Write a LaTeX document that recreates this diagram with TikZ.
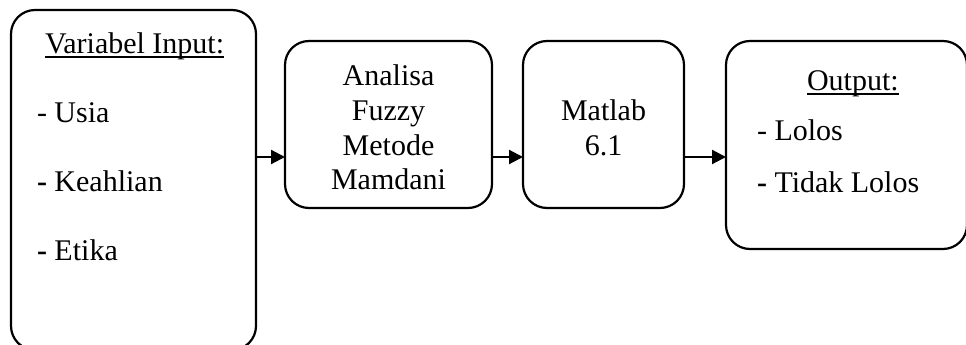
\documentclass[tikz,border=0pt]{standalone}
\usepackage{fontspec}
\setmainfont{Liberation Serif}
\usetikzlibrary{arrows.meta}
\begin{document}
\begin{tikzpicture}[x=1pt,y=-1pt,
  box/.style={draw, line width=2.2pt, rounded corners=24pt, inner sep=0pt, outer sep=0pt},
  lbl/.style={inner sep=0pt, outer sep=0pt, font=\fontsize{30}{34.5}\selectfont},
  arr/.style={line width=2.2pt, -{Triangle[length=14pt,width=14pt]}},
  uline/.style={line width=1.6pt}]
\path[use as bounding box, clip] (0,0) rectangle (966,345);

% boxes
\node[box, minimum width=245pt, minimum height=340pt] (inp) at (133.5,180) {};
\node[box, minimum width=207pt, minimum height=167pt] (fz)  at (388.5,124.5) {};
\node[box, minimum width=161pt, minimum height=167pt] (ml)  at (603.5,124.5) {};
\node[box, minimum width=241pt, minimum height=208pt] (out) at (846.5,145) {};

% input variables
\node[lbl, anchor=base west] (vi) at (45,53) {Variabel Input:};
\draw[uline] ([yshift=-4pt]vi.base west) -- ([yshift=-4pt]vi.base east);
\node[lbl, anchor=base west] (v1) at (37,122) {- Usia};
\node[lbl, anchor=base west] (v2) at (37,191) {\textbf{-} Keahlian};
\node[lbl, anchor=base west] (v3) at (37,260) {\textbf{-} Etika};

% fuzzy analysis
\node[lbl, anchor=base] (f1) at (388.5,85)  {Analisa};
\node[lbl, anchor=base] (f2) at (388.5,120) {Fuzzy};
\node[lbl, anchor=base] (f3) at (388.5,155) {Metode};
\node[lbl, anchor=base] (f4) at (388.5,189) {Mamdani};

% tool
\node[lbl, anchor=base] (m1) at (603.5,120) {Matlab};
\node[lbl, anchor=base] (m2) at (603.5,155) {6.1};

% output
\node[lbl, anchor=base west] (oh) at (807,90) {Output:};
\draw[uline] ([yshift=-4pt]oh.base west) -- ([yshift=-4pt]oh.base east);
\node[lbl, anchor=base west] (o1) at (757,140) {- Lolos};
\node[lbl, anchor=base west] (o2) at (757,192) {\textbf{-} Tidak Lolos};

% flow
\coordinate (ay) at (0,157);
\draw[arr] (inp.east |- ay) -- (fz.west |- ay);
\draw[arr] (fz.east |- ay) -- (ml.west |- ay);
\draw[arr] (ml.east |- ay) -- (out.west |- ay);
\end{tikzpicture}
\end{document}
